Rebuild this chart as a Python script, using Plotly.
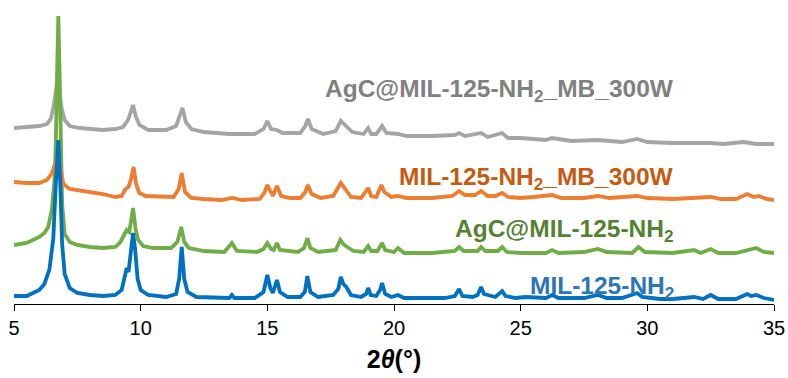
import plotly.graph_objects as go

# XRD patterns (2θ in degrees, stacked intensity in arbitrary units with vertical offsets)
two_theta_mil = [5.0, 5.5, 6.0, 6.2, 6.4, 6.55, 6.65, 6.75, 6.82, 6.9, 7.0, 7.2, 7.5, 8.0, 8.5, 9.0,
                 9.25, 9.38, 9.45, 9.52, 9.6, 9.7, 9.78, 9.88, 10.0, 10.3, 11.0, 11.4, 11.52, 11.62,
                 11.72, 11.85, 12.2, 13.0, 13.5, 13.6, 13.7, 14.5, 14.85, 15.0, 15.12, 15.22, 15.38,
                 15.5, 15.8, 16.3, 16.48, 16.58, 16.7, 17.0, 17.6, 17.8, 17.9, 18.0, 18.12, 18.3,
                 18.7, 18.9, 18.98, 19.08, 19.3, 19.45, 19.53, 19.65, 19.9, 20.16, 20.4, 21.0, 22.0,
                 22.4, 22.57, 22.7, 23.1, 23.3, 23.44, 23.55, 23.75, 24.0, 24.27, 24.4, 24.8, 25.2,
                 26.0, 26.24, 26.5, 27.5, 28.05, 28.4, 29.0, 29.6, 29.8, 30.5, 31.0, 31.85, 32.2,
                 32.5, 32.8, 33.5, 33.94, 34.1, 34.3, 34.6, 35.0]
intensity_mil = [8, 8, 14, 20, 35, 65, 120, 164, 125, 60, 30, 16, 11, 9, 8, 9,
                 14, 28, 36, 32, 50, 71, 55, 25, 14, 9, 7, 10, 25, 57,
                 25, 12, 7, 6, 6, 9, 6, 6, 12, 29, 16, 11, 24,
                 12, 7, 7, 12, 28, 12, 7, 9, 15, 27, 20, 17, 9,
                 7, 10, 16, 9, 8, 14, 21, 10, 7, 9, 6, 6, 6,
                 8, 15, 8, 7, 9, 17, 10, 9, 7, 13, 8, 6, 7,
                 6, 9, 6, 6, 9, 6, 6, 11, 7, 5, 5, 7, 5,
                 9, 5, 5, 10, 8, 9, 6, 4]

two_theta_agc = [5.0, 5.5, 6.0, 6.2, 6.35, 6.5, 6.6, 6.65, 6.7, 6.75, 6.8, 6.85, 6.9, 7.0, 7.2, 7.5,
                 8.0, 8.5, 9.0, 9.2, 9.35, 9.45, 9.55, 9.62, 9.7, 9.8, 9.9, 10.1, 10.5, 11.2, 11.45,
                 11.6, 11.72, 11.9, 12.5, 13.3, 13.6, 13.8, 14.6, 14.85, 15.0, 15.15, 15.25, 15.38,
                 15.5, 16.2, 16.45, 16.58, 16.7, 17.0, 17.7, 17.88, 18.0, 18.15, 18.4, 18.8, 18.98,
                 19.1, 19.35, 19.53, 19.65, 20.0, 20.16, 20.4, 21.5, 22.4, 22.57, 22.75, 23.3, 23.44,
                 23.6, 24.1, 24.27, 24.45, 25.0, 26.0, 26.24, 26.5, 27.5, 28.05, 28.4, 29.4, 29.65,
                 29.9, 31.0, 31.85, 32.1, 32.5, 32.8, 33.5, 33.94, 34.3, 34.6, 35.0]
intensity_agc = [59, 61, 67, 71, 77, 95, 125, 160, 230, 288, 230, 150, 100, 70, 62, 59,
                 57, 56, 57, 62, 70, 74, 72, 85, 96, 75, 64, 58, 56, 56, 62,
                 77, 62, 56, 53, 52, 61, 53, 52, 55, 61, 55, 54, 61,
                 54, 52, 56, 66, 56, 52, 54, 64, 60, 57, 53, 52, 58,
                 53, 53, 61, 54, 52, 56, 51, 51, 53, 57, 53, 53, 57,
                 53, 53, 57, 52, 51, 51, 54, 51, 52, 55, 52, 51, 57,
                 52, 51, 54, 51, 55, 51, 51, 54, 56, 52, 51]

two_theta_mil_mb = [5.0, 5.5, 6.0, 6.3, 6.5, 6.6, 6.7, 6.78, 6.85, 6.95, 7.2, 7.5, 8.0, 8.5, 9.0,
                    9.25, 9.4, 9.52, 9.62, 9.72, 9.82, 9.95, 10.2, 10.8, 11.3, 11.5, 11.62, 11.75,
                    12.0, 12.5, 13.2, 13.6, 14.0, 14.7, 14.9, 15.0, 15.12, 15.22, 15.38, 15.55,
                    15.9, 16.3, 16.5, 16.6, 16.75, 17.1, 17.6, 17.9, 18.05, 18.3, 18.7, 18.98, 19.1,
                    19.3, 19.5, 19.62, 19.9, 20.16, 20.5, 21.5, 22.3, 22.57, 22.8, 23.2, 23.44, 23.7,
                    24.0, 24.27, 24.5, 25.0, 25.5, 26.24, 26.6, 27.5, 28.05, 28.5, 29.6, 30.0, 31.0,
                    31.85, 32.5, 32.9, 33.5, 33.94, 34.2, 34.4, 34.7, 35.0]
intensity_mil_mb = [122, 121, 121, 124, 131, 140, 146, 144, 132, 120, 115, 114, 112, 110, 107,
                    108, 115, 117, 125, 137, 120, 111, 108, 107, 107, 115, 131, 112,
                    106, 105, 104, 106, 104, 105, 112, 119, 112, 108, 118, 108,
                    106, 106, 112, 119, 110, 106, 108, 121, 116, 107, 106, 116, 108,
                    107, 119, 112, 107, 108, 106, 106, 108, 113, 109, 109, 113, 108,
                    108, 111, 107, 106, 107, 109, 106, 106, 108, 106, 108, 106, 105,
                    106, 107, 105, 105, 110, 107, 108, 105, 104]

two_theta_agc_mb = [5.0, 5.5, 6.0, 6.3, 6.45, 6.55, 6.63, 6.7, 6.78, 6.88, 7.0, 7.2, 7.6, 8.0, 8.5,
                    9.0, 9.3, 9.5, 9.6, 9.7, 9.8, 9.95, 10.3, 11.0, 11.4, 11.55, 11.65, 11.78, 12.0,
                    12.5, 13.5, 14.5, 14.85, 15.0, 15.15, 15.38, 15.6, 16.3, 16.5, 16.6, 16.75, 17.2,
                    17.7, 17.9, 18.1, 18.35, 18.8, 18.98, 19.1, 19.3, 19.53, 19.7, 20.16, 20.5, 21.5,
                    22.4, 22.57, 22.8, 23.44, 23.7, 24.27, 24.5, 25.0, 26.0, 26.24, 27.0, 28.05, 29.0,
                    29.6, 30.0, 31.0, 32.0, 32.5, 33.0, 33.8, 34.3, 35.0]
intensity_agc_mb = [176, 177, 178, 180, 185, 196, 210, 221, 212, 196, 184, 178, 176, 175, 174,
                    175, 177, 184, 192, 199, 188, 179, 174, 174, 178, 190, 196, 182, 175,
                    172, 170, 170, 175, 183, 175, 174, 171, 171, 178, 185, 175, 170,
                    173, 183, 178, 172, 170, 176, 170, 170, 178, 171, 170, 168, 168,
                    169, 171, 168, 171, 167, 171, 166, 166, 164, 166, 163, 164, 162,
                    165, 162, 161, 161, 161, 160, 162, 160, 160]

series_names = ["AgC@MIL-125-NH<sub>2</sub>_MB_300W", "MIL-125-NH<sub>2</sub>_MB_300W",
                "AgC@MIL-125-NH<sub>2</sub>", "MIL-125-NH<sub>2</sub>"]
line_colors = ["#A5A5A5", "#ED7D31", "#70AD47", "#0070C0"]
label_colors = ["#808080", "#C55A11", "#548235", "#2E75B6"]
label_y = [214, 126, 74, 17]
x_ticks = [5, 10, 15, 20, 25, 30, 35]

fig = go.Figure()

# gray drawn first, then green, orange, blue on top
draw_order = [
    (two_theta_agc_mb, intensity_agc_mb, 0),
    (two_theta_agc, intensity_agc, 2),
    (two_theta_mil_mb, intensity_mil_mb, 1),
    (two_theta_mil, intensity_mil, 3),
]
for xs, ys, i in draw_order:
    fig.add_trace(go.Scatter(
        x=xs, y=ys, mode="lines", name=series_names[i],
        line=dict(color=line_colors[i], width=3.8),
        showlegend=False, hoverinfo="skip",
    ))

for name, color, yv in zip(series_names, label_colors, label_y):
    fig.add_annotation(
        x=31.12, y=yv, xref="x", yref="y", text="<b>" + name + "</b>",
        showarrow=False, xanchor="right", yanchor="middle",
        font=dict(family="Liberation Sans, Arial, sans-serif", size=24.5, color=color),
    )

fig.update_layout(
    width=788, height=378,
    margin=dict(l=14, r=14, t=4, b=74),
    paper_bgcolor="white", plot_bgcolor="white",
    font=dict(family="Liberation Sans, Arial, sans-serif", color="black"),
)
fig.update_xaxes(
    range=[5, 35], tickmode="array", tickvals=x_ticks, ticktext=[str(t) for t in x_ticks],
    showline=True, linecolor="black", linewidth=1.3, ticks="outside", ticklen=6,
    tickcolor="black", tickwidth=1.3, showgrid=False, zeroline=False,
    tickfont=dict(size=20, color="black"),
    title=dict(text="<b>2<i>θ</i>(°)</b>", font=dict(size=25, color="black"), standoff=12),
)
fig.update_yaxes(range=[0, 300], visible=False)

fig.write_html("out.html")
